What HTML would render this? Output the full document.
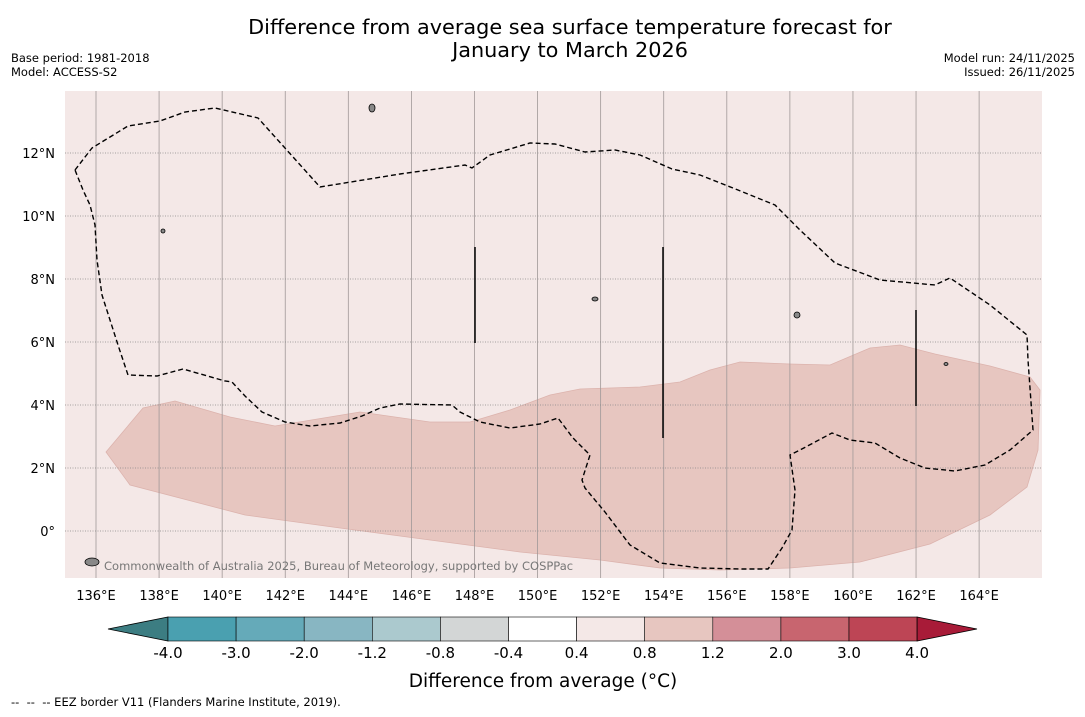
<!DOCTYPE html>
<html><head><meta charset="utf-8"><style>
body{margin:0;background:#fff;width:1085px;height:713px;overflow:hidden;font-family:"DejaVu Sans","Liberation Sans",sans-serif;}
svg text{font-family:"DejaVu Sans","Liberation Sans",sans-serif;white-space:pre;}
</style></head><body>
<svg id="c" width="1085" height="713" xmlns="http://www.w3.org/2000/svg">
<text x="570" y="34" font-size="20.8" text-anchor="middle">Difference from average sea surface temperature forecast for</text>
<text x="570" y="57" font-size="20.8" text-anchor="middle">January to March 2026</text>
<text x="11" y="62" font-size="11.5">Base period: 1981-2018</text>
<text x="11" y="76" font-size="11.5">Model: ACCESS-S2</text>
<text x="1075" y="62" font-size="11.5" text-anchor="end">Model run: 24/11/2025</text>
<text x="1075" y="76" font-size="11.5" text-anchor="end">Issued: 26/11/2025</text>
<g id="map"></g>
<g id="cb"></g>
<text x="543" y="687" font-size="18.5" text-anchor="middle">Difference from average (°C)</text>
<text x="11" y="706" font-size="11.5">--  --  -- EEZ border V11 (Flanders Marine Institute, 2019).</text>
</svg>
<script>
const lonTicks=[136,138,140,142,144,146,148,150,152,154,156,158,160,162,164];
const latTicks=[0,2,4,6,8,10,12];
const cbLevels=["-4.0","-3.0","-2.0","-1.2","-0.8","-0.4","0.4","0.8","1.2","2.0","3.0","4.0"];
const cbColors=["#4aa0b0","#65aab9","#88b6c2","#abc9ce","#d3d6d6","#ffffff","#f4e8e7","#e7c6c0","#d48f98","#c8656f","#bd4555"];
const ns="http://www.w3.org/2000/svg";
const X0=65,X1=1042,Y0=91,Y1=578;
const xs=lon=>96+(lon-136)*31.54;
const ys=lat=>531-lat*31.5;
function mk(t,a,p){const e=document.createElementNS(ns,t);for(const k in a)e.setAttribute(k,a[k]);p.appendChild(e);return e;}
const map=document.getElementById('map');
mk('rect',{x:X0,y:Y0,width:X1-X0,height:Y1-Y0,fill:'#f4e8e7'},map);
const shade=[[106,452],[143,408],[175,401],[230,417],[275,426],[360,412],[430,422],[470,422],[510,410],[550,395],[580,389],[640,387],[680,382],[710,370],[740,362],[790,364],[830,365],[870,348],[900,345],[935,354],[990,366],[1030,377],[1040,390],[1038,450],[1027,487],[990,515],[930,544],[860,562],[790,568],[720,570],[660,568],[600,560],[520,552],[430,540],[340,528],[245,515],[130,485]];
let s=mk('polygon',{points:shade.map(p=>p.join(',')).join(' '),fill:'#e7c6c0',stroke:'#dcb3ad','stroke-width':0.8},map);


lonTicks.forEach(l=>{
 const x=xs(l);
 const g=mk('line',{x1:x,x2:x,y1:Y0,y2:Y1,stroke:'#a09898','stroke-width':0.8},map);
 
 
 const t=mk('text',{x:x,y:600,'font-size':13,'text-anchor':'middle'},map);t.textContent=l+'°E';
 
 
});
latTicks.forEach(l=>{
 const y=ys(l);
 const g=mk('line',{x1:X0,x2:X1,y1:y,y2:y,stroke:'#888','stroke-width':0.8,'stroke-dasharray':'1,1.5'},map);
 
 
 const t=mk('text',{x:55,y:y+5,'font-size':13,'text-anchor':'end'},map);t.textContent=l===0?'0°':l+'°N';
 
 
});
const eez=[[75,170],[92,148],[128,126],[160,121],[185,112],[215,108],[258,118],[320,187],[400,174],[465,165],[472,168],[490,155],[530,143],[555,144],[585,152],[615,150],[640,155],[672,169],[700,175],[738,190],[775,205],[800,230],[835,263],[880,280],[935,285],[950,278],[990,305],[1027,335],[1028,360],[1033,430],[1010,450],[985,465],[955,471],[925,468],[900,458],[875,443],[850,440],[832,433],[800,450],[790,455],[795,490],[792,530],[782,548],[768,569],[740,569],[700,568],[660,563],[630,545],[605,512],[585,488],[582,480],[590,455],[573,438],[558,418],[540,424],[510,428],[480,422],[460,412],[452,405],[400,404],[380,408],[362,416],[340,423],[310,426],[285,422],[262,412],[245,396],[232,382],[225,381],[183,369],[157,376],[128,375],[118,345],[102,295],[97,260],[95,225],[90,205],[83,190],[75,170]];
const e=mk('polyline',{points:eez.map(p=>p.join(',')).join(' '),fill:'none',stroke:'#000','stroke-width':1.4,'stroke-dasharray':'5,3'},map);


[[475,247,343],[663,247,438],[916,310,406]].forEach(v=>{
 const l=mk('line',{x1:v[0],x2:v[0],y1:v[1],y2:v[2],stroke:'#000','stroke-width':1.5},map);
 
 
});
[[372,108,3,4],[797,315,3,3],[163,231,2,2],[595,299,3,2],[92,562,7,4],[946,364,2,1.5]].forEach(i=>{
 const r=mk('ellipse',{cx:i[0],cy:i[1],rx:i[2],ry:i[3],fill:'#888',stroke:'#000','stroke-width':0.8},map);
 
 
});
const cr=mk('text',{x:104,y:570,'font-size':11.5,fill:'#777'},map);cr.textContent='Commonwealth of Australia 2025, Bureau of Meteorology, supported by COSPPac';


const cb=document.getElementById('cb');
const cx0=168,cw=68.1,cy=617,ch=24;
let el=mk('polygon',{points:`108,629 ${cx0},${cy} ${cx0},${cy+ch}`,fill:'#3c7d82',stroke:'#000','stroke-width':0.8},cb);


cbColors.forEach((c,i)=>{
 const r=mk('rect',{x:cx0+i*cw,y:cy,width:cw,height:ch,fill:c,stroke:'#000','stroke-width':0.6},cb);
 
 
});
const xe=cx0+cbColors.length*cw;
let er=mk('polygon',{points:`${xe},${cy} 977,629 ${xe},${cy+ch}`,fill:'#a81b38',stroke:'#000','stroke-width':0.8},cb);


cbLevels.forEach((l,i)=>{
 const t=mk('text',{x:cx0+i*cw,y:658,'font-size':15,'text-anchor':'middle'},cb);t.textContent=l;
 
 
});
</script>
</body></html>
